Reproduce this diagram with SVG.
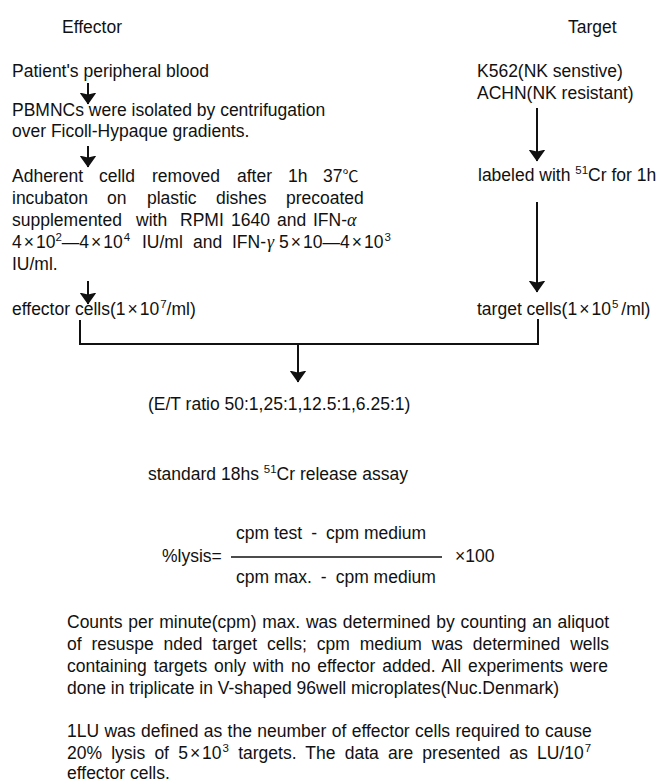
<svg xmlns="http://www.w3.org/2000/svg" width="669" height="784" viewBox="0 0 669 784">
<style>
text{font-family:"Liberation Sans",Arial,"Noto Sans CJK JP",sans-serif;font-size:17.5px;fill:#111}
.sup{font-size:11.5px}
.gk{font-family:"Liberation Serif","Times New Roman",serif;font-style:italic;font-size:18px}
.cjk{font-family:"Noto Sans CJK JP",sans-serif;font-size:16px}
.ln{stroke:#111;stroke-width:2;fill:none}
</style>
<defs>
<marker id="ah" markerUnits="userSpaceOnUse" markerWidth="12" markerHeight="17" viewBox="0 0 12 17" refX="11.5" refY="8.5" orient="auto">
<path d="M0,0 L12,8.5 L0,17 L2,8.5 z" fill="#111"/>
</marker>
</defs>
<rect width="669" height="784" fill="#fff"/>

<g id="connectors">
<line class="ln" x1="88" y1="83" x2="88" y2="104" marker-end="url(#ah)"/>
<line class="ln" x1="88" y1="146" x2="88" y2="167" marker-end="url(#ah)"/>
<line class="ln" x1="88" y1="281" x2="88" y2="304" marker-end="url(#ah)"/>
<line class="ln" x1="537" y1="108" x2="537" y2="161" marker-end="url(#ah)"/>
<line class="ln" x1="537" y1="202" x2="537" y2="292" marker-end="url(#ah)"/>
<path class="ln" d="M80,320 V344 H538 V319"/>
<line class="ln" x1="298" y1="344" x2="298" y2="382" marker-end="url(#ah)"/>
</g>

<g id="header-effector"><text x="62" y="33">Effector</text></g>
<g id="header-target"><text x="568" y="33">Target</text></g>

<g id="node-blood"><text x="12" y="77">Patient's peripheral blood</text></g>

<g id="node-pbmnc">
<text x="12" y="116">PBMNCs were isolated by centrifugation</text>
<text x="12" y="137">over Ficoll-Hypaque gradients.</text>
</g>

<g id="node-adherent">
<text y="182"><tspan x="12">Adherent</tspan><tspan x="99">celld</tspan><tspan x="152">removed</tspan><tspan x="237">after</tspan><tspan x="288">1h</tspan><tspan x="323">37</tspan><tspan class="cjk">℃</tspan></text>
<text y="204"><tspan x="12">incubaton</tspan><tspan x="107">on</tspan><tspan x="147">plastic</tspan><tspan x="216">dishes</tspan><tspan x="286">precoated</tspan></text>
<text y="226"><tspan x="12">supplemented</tspan><tspan x="136">with</tspan><tspan x="180">RPMI</tspan><tspan x="231">1640</tspan><tspan x="277">and</tspan><tspan x="313">IFN-</tspan><tspan x="347" class="gk">α</tspan></text>
<text y="248"><tspan x="12">4</tspan><tspan dx="2">×</tspan><tspan dx="2">10</tspan><tspan class="sup" dy="-7">2</tspan><tspan dy="7">—4</tspan><tspan dx="2">×</tspan><tspan dx="2">10</tspan><tspan class="sup" dy="-7" dx="1">4</tspan><tspan x="142" dy="7">IU/ml</tspan><tspan x="193">and</tspan><tspan x="232">IFN-</tspan><tspan x="267" class="gk">γ</tspan><tspan x="279">5</tspan><tspan dx="2">×</tspan><tspan dx="2">10—4</tspan><tspan dx="2">×</tspan><tspan dx="2">10</tspan><tspan class="sup" dy="-7" dx="1">3</tspan></text>
<text x="12" y="270">IU/ml.</text>
</g>

<g id="node-effector-cells">
<text x="12" y="315">effector cells(1<tspan dx="2">×</tspan><tspan dx="2">10</tspan><tspan class="sup" dy="-7" dx="1">7</tspan><tspan dy="7">/ml)</tspan></text>
</g>

<g id="node-k562">
<text x="477" y="77">K562(NK senstive)</text>
<text x="477" y="99">ACHN(NK resistant)</text>
</g>

<g id="node-labeled">
<text x="478" y="181">labeled with <tspan class="sup" dy="-7">51</tspan><tspan dy="7">Cr for 1h</tspan></text>
</g>

<g id="node-target-cells">
<text x="477" y="315">target cells(1<tspan dx="2">×</tspan><tspan dx="2">10</tspan><tspan class="sup" dy="-7" dx="1">5</tspan><tspan dy="7" dx="3">/ml)</tspan></text>
</g>

<g id="node-ratio"><text x="148" y="410">(E/T ratio 50:1,25:1,12.5:1,6.25:1)</text></g>

<g id="node-assay"><text x="148" y="480">standard 18hs <tspan class="sup" dy="-7">51</tspan><tspan dy="7">Cr release assay</tspan></text></g>

<g id="node-formula">
<text x="162" y="562">%lysis=</text>
<text x="236" y="539">cpm test<tspan dx="9">-</tspan><tspan dx="9">cpm medium</tspan></text>
<line x1="231" y1="557" x2="442" y2="557" stroke="#111" stroke-width="1.6"/>
<text x="236" y="583">cpm max.<tspan dx="9">-</tspan><tspan dx="9">cpm medium</tspan></text>
<text x="455" y="562">×100</text>
</g>

<g id="node-counts">
<text x="67" y="628" word-spacing="0.9">Counts per minute(cpm) max. was determined by counting an aliquot</text>
<text x="67" y="650" word-spacing="5">of resuspe nded target cells; cpm medium was determined wells</text>
<text x="67" y="672" word-spacing="2">containing targets only with no effector added. All experiments were</text>
<text x="67" y="694">done in triplicate in V-shaped 96well microplates(Nuc.Denmark)</text>
</g>

<g id="node-lu">
<text x="67" y="737" word-spacing="0.5">1LU was defined as the neumber of effector cells required to cause</text>
<text x="67" y="759" word-spacing="4.3">20% lysis of 5<tspan dx="2" word-spacing="0">×</tspan><tspan dx="2">10</tspan><tspan class="sup" dy="-7" dx="1">3</tspan><tspan dy="7"> targets. The data are presented as LU/10</tspan><tspan class="sup" dy="-7" dx="1">7</tspan></text>
<text x="67" y="779">effector cells.</text>
</g>
</svg>
